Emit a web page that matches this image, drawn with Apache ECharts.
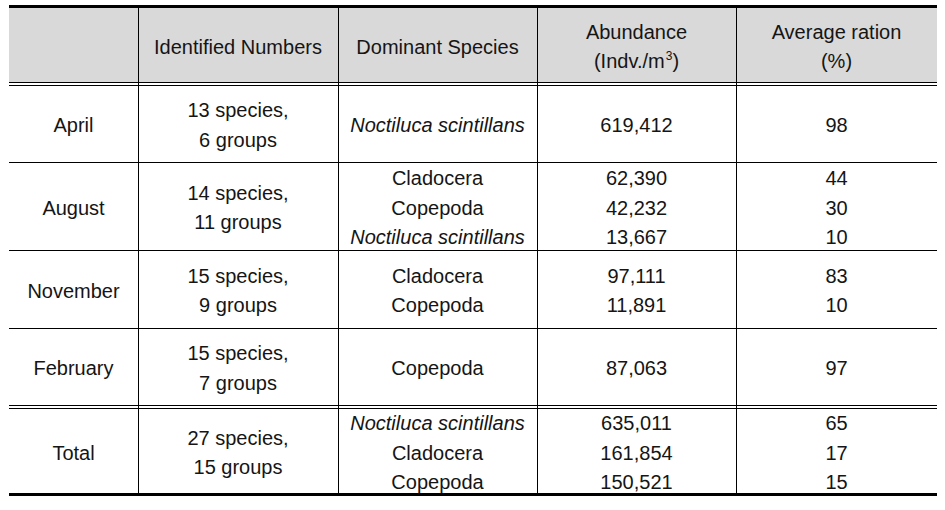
<!DOCTYPE html>
<html><head><meta charset="utf-8">
<script src="https://cdn.jsdelivr.net/npm/echarts@6/dist/echarts.min.js"></script>
<style>html,body{margin:0;padding:0;background:#fff}#c{width:945px;height:510px}</style>
</head><body><div id="c"></div>
<script>
// ---- data ----
const headers = [[''], ['Identified Numbers'], ['Dominant Species'], ['Abundance', '(Indv./m{s|3})'], ['Average ration', '(%)']];
const months = ['April', 'August', 'November', 'February', 'Total'];
const speciesCounts = [13, 14, 15, 15, 27];
const groupCounts = [6, 11, 9, 7, 15];
const dominantSpecies = [
  ['Noctiluca scintillans'],
  ['Cladocera', 'Copepoda', 'Noctiluca scintillans'],
  ['Cladocera', 'Copepoda'],
  ['Copepoda'],
  ['Noctiluca scintillans', 'Cladocera', 'Copepoda']
];
const abundance = [
  [619412],
  [62390, 42232, 13667],
  [97111, 11891],
  [87063],
  [635011, 161854, 150521]
];
const averageRatio = [
  [98],
  [44, 30, 10],
  [83, 10],
  [97],
  [65, 17, 15]
];
const italicNames = ['Noctiluca scintillans'];

// ---- layout ----
const colEdges = [9, 138, 338, 537, 736, 937];
const headerBand = [8, 82];
const bodyBands = [[85, 162], [162, 250], [250, 328], [328, 405], [408, 494]];
const lineH = 29.5;
const textShift = 1.5;
const FONT = "'Liberation Sans', Arial, sans-serif";
const FS = 20;
const TXT = '#151515';

const fmt = n => n.toLocaleString('en-US');
const g = [];

// header background
g.push({type: 'rect', shape: {x: colEdges[0], y: headerBand[0], width: colEdges[5] - colEdges[0], height: headerBand[1] - headerBand[0]}, style: {fill: '#d9d9d9'}, z: 0});

function cell(col, band, lines) {
  const cx = (colEdges[col] + colEdges[col + 1]) / 2;
  const cy = (band[0] + band[1]) / 2 + textShift;
  const n = lines.length;
  lines.forEach((ln, i) => {
    const italic = italicNames.indexOf(ln) >= 0;
    g.push({
      type: 'text', z: 5,
      x: cx, y: cy + (i - (n - 1) / 2) * lineH,
      style: {
        text: ln,
        fill: TXT,
        fontSize: FS, fontFamily: FONT, fontStyle: italic ? 'italic' : 'normal',
        align: 'center', verticalAlign: 'middle',
        textAlign: 'center', textVerticalAlign: 'middle',
        rich: {s: {fontSize: 12, fill: TXT, fontFamily: FONT, verticalAlign: 'top', padding: [0, 0, 10, 1]}}
      }
    });
  });
}

headers.forEach((h, c) => cell(c, headerBand, h));
months.forEach((m, r) => {
  const band = bodyBands[r];
  cell(0, band, [m]);
  cell(1, band, [speciesCounts[r] + ' species,', groupCounts[r] + ' groups']);
  cell(2, band, dominantSpecies[r]);
  cell(3, band, abundance[r].map(fmt));
  cell(4, band, averageRatio[r].map(String));
});

function hline(y, w) {
  g.push({type: 'line', z: 10, shape: {x1: colEdges[0], y1: y, x2: colEdges[5], y2: y}, style: {stroke: '#000', lineWidth: w}});
}
// vertical separators
for (let c = 1; c < colEdges.length - 1; c++) {
  g.push({type: 'line', z: 10, shape: {x1: colEdges[c] + 0.5, y1: headerBand[0], x2: colEdges[c] + 0.5, y2: bodyBands[4][1]}, style: {stroke: '#000', lineWidth: 1}});
}
hline(6.5, 3);
hline(headerBand[1] + 0.5, 1);
hline(bodyBands[0][0] + 0.5, 1);
hline(bodyBands[1][0] + 0.5, 1);
hline(bodyBands[2][0] + 0.5, 1);
hline(bodyBands[3][0] + 0.5, 1);
hline(bodyBands[3][1] + 0.5, 1);
hline(bodyBands[4][0] + 0.5, 1);
hline(bodyBands[4][1] + 0.5, 3);

const chart = echarts.init(document.getElementById('c'), null, {renderer: 'svg'});
chart.setOption({animation: false, graphic: {elements: g}});
</script>
</body></html>
